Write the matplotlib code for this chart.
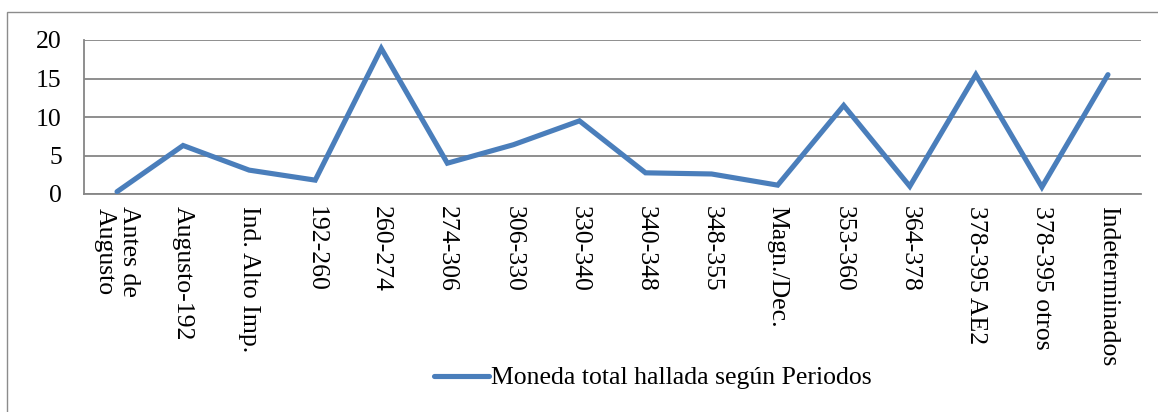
import matplotlib
matplotlib.use("Agg")
import matplotlib.pyplot as plt
from matplotlib.patches import Rectangle

categories = ["Antes de\nAugusto", "Augusto-192", "Ind. Alto Imp.", "192-260", "260-274",
              "274-306", "306-330", "330-340", "340-348", "348-355", "Magn./Dec.",
              "353-360", "364-378", "378-395 AE2", "378-395 otros", "Indeterminados"]
values = [0.3, 6.3, 3.1, 1.8, 18.9, 4.0, 6.4, 9.5, 2.75, 2.6, 1.15, 11.5, 1.0, 15.5, 0.9, 15.5]
series_name = "Moneda total hallada según Periodos"
yticks = [0, 5, 10, 15, 20]

W, H = 1158, 412
FS = 18.5
plt.rcParams['font.family'] = ['Liberation Serif', 'DejaVu Serif']
fig = plt.figure(figsize=(W / 100, H / 100), dpi=100)

# outer chart frame (cropped on right/bottom)
fig.patches.append(Rectangle((7 / W, 0 - 0.05), 1.2, 1 - 12 / H + 0.05, transform=fig.transFigure,
                             fill=False, edgecolor="#8c8c8c", linewidth=1.0))

left, right, top, bottom = 84, 1141, 40, 194
ax = fig.add_axes([left / W, 1 - bottom / H, (right - left) / W, (bottom - top) / H])

x = list(range(len(categories)))
ax.plot(x, values, color="#4A7EBB", linewidth=3.7, solid_capstyle="round",
        solid_joinstyle="miter", label=series_name, zorder=3)

ax.set_xlim(-0.5, len(categories) - 0.5)
ax.set_ylim(0, 20)
ax.set_yticks(yticks)
ax.yaxis.grid(True, color="#868686", linewidth=1.3)
ax.set_axisbelow(True)
for s in ["top", "right"]:
    ax.spines[s].set_visible(False)
for s in ["left", "bottom"]:
    ax.spines[s].set_color("#868686")
    ax.spines[s].set_linewidth(1.3)
ax.tick_params(axis="y", length=0, labelsize=FS, pad=16)
ax.tick_params(axis="x", length=0, labelsize=FS, pad=9)
ax.set_xticks(x)
ax.set_xticklabels(categories, rotation=270, ha="center", va="top", linespacing=1.15)
for lbl in ax.get_yticklabels():
    lbl.set_horizontalalignment("right")

leg = fig.legend(loc="center", bbox_to_anchor=(653 / W, 1 - 378 / H), frameon=False,
                 fontsize=FS, handlelength=2.15, handletextpad=0.08)

fig.savefig("out.png", dpi=100)
